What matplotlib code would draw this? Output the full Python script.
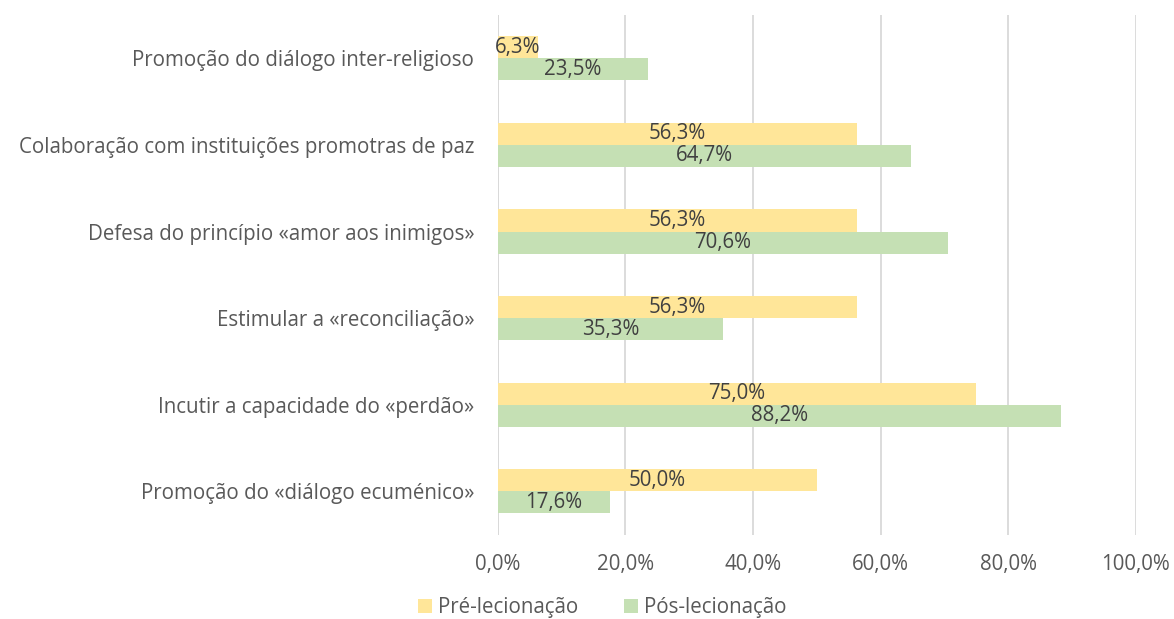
import numpy as np
import matplotlib.pyplot as plt

categorias = [
    "Promoção do diálogo inter-religioso",
    "Colaboração com instituições promotras de paz",
    "Defesa do princípio «amor aos inimigos»",
    "Estimular a «reconciliação»",
    "Incutir a capacidade do «perdão»",
    "Promoção do «diálogo ecuménico»",
]
pre = [6.3, 56.3, 56.3, 56.3, 75.0, 50.0]
pos = [23.5, 64.7, 70.6, 35.3, 88.2, 17.6]
series = ["Pré-lecionação", "Pós-lecionação"]
ticks = [0, 20, 40, 60, 80, 100]

plt.rcParams['font.family'] = ['Open Sans', 'DejaVu Sans']
fs = 14.8

fig = plt.figure(figsize=(11.74, 6.19), dpi=100)
ax = fig.add_axes([0.424, 0.136, 0.5436, 0.840])

y = np.arange(len(categorias))
h = 0.254
b1 = ax.barh(y - h / 2, pre, height=h, color='#FFE699', label=series[0], zorder=2)
b2 = ax.barh(y + h / 2, pos, height=h, color='#C5E0B4', label=series[1], zorder=2)

for bars, vals in ((b1, pre), (b2, pos)):
    for bar, v in zip(bars, vals):
        ax.text(bar.get_x() + bar.get_width() / 2, bar.get_y() + bar.get_height() / 2,
                f"{v:.1f}%".replace('.', ','), ha='center', va='center',
                fontsize=fs, color='#404040', zorder=3)

ax.set_xlim(0, 100)
ax.set_ylim(len(categorias) - 0.5, -0.5)
ax.set_yticks(y)
ax.set_yticklabels(categorias, fontsize=fs, color='#595959')
ax.set_xticks(ticks)
ax.set_xticklabels([f"{t:.1f}%".replace('.', ',') for t in ticks], fontsize=fs, color='#595959')
ax.tick_params(axis='y', length=0, pad=17)
ax.tick_params(axis='x', length=0, pad=14)
ax.grid(axis='x', color='#D9D9D9', linewidth=1.3, zorder=0)
for s in ax.spines.values():
    s.set_visible(False)
ax.axvline(0, color='#D9D9D9', linewidth=1.3, zorder=1)

fig.legend(handles=[b1, b2], labels=series, loc='center', bbox_to_anchor=(0.513, 0.018),
           ncol=2, frameon=False, fontsize=fs, labelcolor='#595959',
           handlelength=0.7, handleheight=0.7, handletextpad=0.3, columnspacing=2.2)

fig.savefig('out.png', dpi=100)
